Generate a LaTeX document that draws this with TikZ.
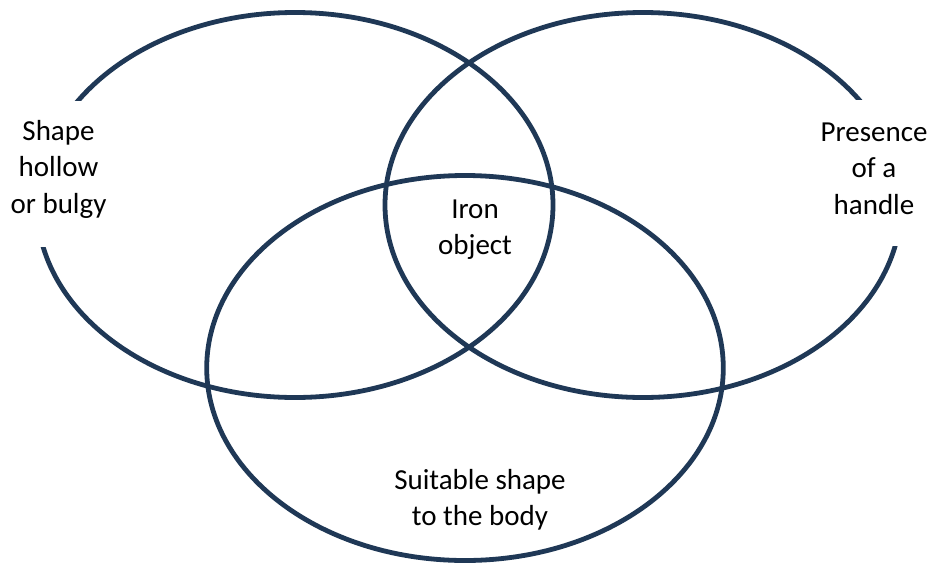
\documentclass[tikz,border=0pt]{standalone}
\usepackage{fontspec}
\setmainfont{Carlito}
\definecolor{navy}{RGB}{31,56,86}
\begin{document}
\begin{tikzpicture}[x=1pt,y=-1pt,
  ring/.style={draw=navy,line width=4.8pt},
  mask/.style={fill=white,draw=none},
  lbl/.style={align=center,font=\fontsize{29}{36.5}\selectfont,inner sep=0pt,text=black}]
\useasboundingbox (0,0) rectangle (935,563);
\draw[ring] (295,205) ellipse [x radius=258, y radius=192.5];
\draw[ring] (643,205) ellipse [x radius=258, y radius=192.5];
\draw[ring] (465,368) ellipse [x radius=258.3, y radius=192.5];
\fill[mask] (0,101) rectangle (118,247);
\fill[mask] (812,100) rectangle (935,246);
\node[lbl] (left) at (58.5,169) {Shape\\hollow\\or bulgy};
\node[lbl] (right) at (874,168.5) {Presence\\of a\\handle};
\node[lbl] (center) at (475,229.5) {Iron\\object};
\node[lbl] (bottom) at (480,500) {Suitable shape\\to the body};
\end{tikzpicture}
\end{document}
